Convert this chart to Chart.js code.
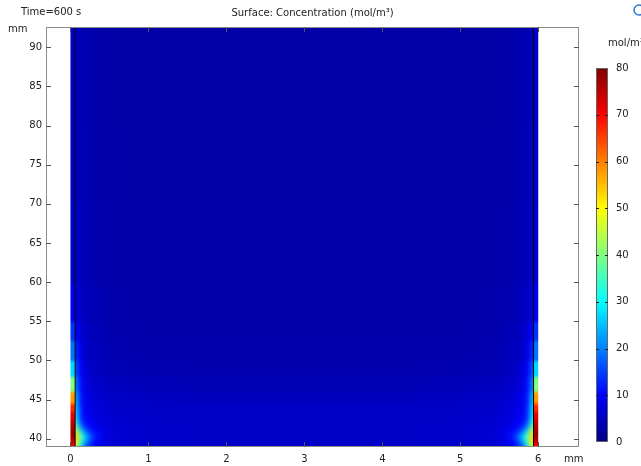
<!DOCTYPE html>
<html>
<head>
<meta charset="utf-8">
<title>Surface: Concentration</title>
<script src="https://cdn.jsdelivr.net/npm/chart.js@4/dist/chart.umd.min.js"></script>
<style>
  html, body { margin: 0; padding: 0; background: #fff; }
  canvas { display: block; }
</style>
</head>
<body>
<canvas id="c" width="641" height="466"></canvas>
<script>
// Cell boundaries of the concentration field (mm)
const xEdges = [0, 0.06, 0.1, 0.15, 0.2, 0.28, 0.38, 0.5, 0.7, 1.0, 1.5, 2.2, 3.8, 4.5, 5.0, 5.3, 5.5, 5.62, 5.72, 5.8, 5.85, 5.9, 5.94, 6.0];
const yEdges = [38.94, 39.4, 39.9, 40.4, 41.0, 41.7, 42.5, 43.5, 44.5, 46, 48, 50, 52.5, 55, 60, 70, 80, 92.6];

// Concentration (mol/m^3) per cell, bottom row first, left to right
const concentration = [
  [70, 47, 32, 21, 13, 8.8, 7, 6.3, 6, 5.9, 5.8, 5.8, 5.8, 5.9, 6, 6.3, 7, 8.8, 13, 21, 32, 47, 70],
  [74, 52, 38, 26, 16, 10, 7.6, 6.5, 6.1, 5.9, 5.8, 5.8, 5.8, 5.9, 6.1, 6.5, 7.6, 10, 16, 26, 38, 52, 74],
  [77, 54, 41, 30, 20, 12, 8.3, 6.8, 6.2, 5.9, 5.8, 5.8, 5.8, 5.9, 6.2, 6.8, 8.3, 12, 20, 30, 41, 54, 77],
  [78, 52, 36, 26, 17, 11, 8, 6.7, 6.2, 5.9, 5.8, 5.8, 5.8, 5.9, 6.2, 6.7, 8, 11, 17, 26, 36, 52, 78],
  [77, 43, 25, 17, 12, 9, 7.3, 6.5, 6.1, 5.9, 5.8, 5.8, 5.8, 5.9, 6.1, 6.5, 7.3, 9, 12, 17, 25, 43, 77],
  [75, 34, 18, 12.5, 9.8, 8.1, 7, 6.4, 6, 5.8, 5.8, 5.8, 5.8, 5.8, 6, 6.4, 7, 8.1, 9.8, 12.5, 18, 34, 75],
  [72, 29, 14.5, 10.5, 8.8, 7.6, 6.7, 6.2, 5.9, 5.8, 5.8, 5.8, 5.8, 5.8, 5.9, 6.2, 6.7, 7.6, 8.8, 10.5, 14.5, 29, 72],
  [67, 27, 13.5, 10, 8.4, 7.3, 6.5, 6, 5.7, 5.6, 5.5, 5.5, 5.5, 5.6, 5.7, 6, 6.5, 7.3, 8.4, 10, 13.5, 27, 67],
  [58, 25, 12.5, 9.5, 7.8, 6.8, 6, 5.6, 5.3, 5.1, 5.0, 5.0, 5.0, 5.1, 5.3, 5.6, 6, 6.8, 7.8, 9.5, 12.5, 25, 58],
  [40, 21, 11, 8.5, 7, 6, 5.3, 4.9, 4.6, 4.4, 4.2, 4.2, 4.2, 4.4, 4.6, 4.9, 5.3, 6, 7, 8.5, 11, 21, 40],
  [27, 17, 10, 7.5, 6.2, 5.3, 4.7, 4.3, 4, 3.8, 3.7, 3.7, 3.7, 3.8, 4, 4.3, 4.7, 5.3, 6.2, 7.5, 10, 17, 27],
  [19, 13, 8.5, 6.5, 5.5, 4.8, 4.3, 3.9, 3.7, 3.5, 3.5, 3.5, 3.5, 3.5, 3.7, 3.9, 4.3, 4.8, 5.5, 6.5, 8.5, 13, 19],
  [14, 10, 7, 5.8, 5, 4.4, 4, 3.7, 3.5, 3.4, 3.4, 3.4, 3.4, 3.4, 3.5, 3.7, 4, 4.4, 5, 5.8, 7, 10, 14],
  [9, 7, 5.6, 4.9, 4.4, 4.0, 3.7, 3.5, 3.4, 3.3, 3.3, 3.3, 3.3, 3.3, 3.4, 3.5, 3.7, 4.0, 4.4, 4.9, 5.6, 7, 9],
  [6.5, 5.5, 4.8, 4.4, 4.0, 3.7, 3.5, 3.3, 3.25, 3.2, 3.2, 3.2, 3.2, 3.2, 3.25, 3.3, 3.5, 3.7, 4.0, 4.4, 4.8, 5.5, 6.5],
  [5.8, 5.0, 4.5, 4.1, 3.8, 3.5, 3.3, 3.2, 3.1, 3.1, 3.1, 3.1, 3.1, 3.1, 3.1, 3.2, 3.3, 3.5, 3.8, 4.1, 4.5, 5.0, 5.8],
  [5.5, 4.8, 4.3, 4.0, 3.7, 3.4, 3.2, 3.1, 3.05, 3.0, 3.0, 3.0, 3.0, 3.0, 3.05, 3.1, 3.2, 3.4, 3.7, 4.0, 4.3, 4.8, 5.5]
];

// Inner boundaries of the thin wall layers (mm)
const wallLines = [0.06, 5.94];

// Axis ticks
const xTicks = [0, 1, 2, 3, 4, 5, 6];
const yTicks = [40, 45, 50, 55, 60, 65, 70, 75, 80, 85, 90];
const colorTicks = [0, 10, 20, 30, 40, 50, 60, 70, 80];

const X_MIN = -0.314, X_MAX = 6.523, Y_MIN = 38.94, Y_MAX = 92.6;
const C_MIN = 0, C_MAX = 80;
const FONT = '"DejaVu Sans", sans-serif';
const TEXT = '#222';

function clamp01(v) { return Math.max(0, Math.min(1, v)); }
function jet(v) {
  const t = clamp01((v - C_MIN) / (C_MAX - C_MIN));
  const r = clamp01(Math.min(4 * t - 1.5, -4 * t + 4.5));
  const g = clamp01(Math.min(4 * t - 0.5, -4 * t + 3.5));
  const b = clamp01(Math.min(4 * t + 0.5, -4 * t + 2.5));
  return `rgb(${Math.round(r * 255)},${Math.round(g * 255)},${Math.round(b * 255)})`;
}

// Paint the cells of columns c0..c1; the outer cells are stretched by `pad`
// pixels so that the smoothing below keeps full colour at the region borders.
function paintCells(g, x, y, c0, c1, pad) {
  const last = concentration.length - 1;
  for (let r = 0; r <= last; r++) {
    let yb = y.getPixelForValue(yEdges[r]);
    let yt = y.getPixelForValue(yEdges[r + 1]);
    if (r === 0) yb += pad;
    if (r === last) yt -= pad;
    for (let c = c0; c <= c1; c++) {
      let xl = x.getPixelForValue(xEdges[c]);
      let xr = x.getPixelForValue(xEdges[c + 1]);
      if (c === c0) xl -= pad;
      if (c === c1) xr += pad;
      g.fillStyle = jet(concentration[r][c]);
      g.fillRect(Math.floor(xl), Math.floor(yt), Math.ceil(xr) - Math.floor(xl), Math.ceil(yb) - Math.floor(yt));
    }
  }
}

const fieldPlugin = {
  id: 'surfaceField',
  beforeDatasetsDraw(chart) {
    const { ctx, scales: { x, y }, chartArea: a } = chart;
    const off = document.createElement('canvas');
    off.width = chart.width; off.height = chart.height;
    const g = off.getContext('2d');
    const nCols = xEdges.length - 1;
    // wall layers and the channel between them are shaded separately
    const regions = [
      { c0: 0, c1: 0, blur: 1.5 },
      { c0: 1, c1: nCols - 2, blur: 2.5 },
      { c0: nCols - 1, c1: nCols - 1, blur: 1.5 }
    ];
    regions.forEach(reg => {
      g.clearRect(0, 0, off.width, off.height);
      paintCells(g, x, y, reg.c0, reg.c1, 12);
      const xl = x.getPixelForValue(xEdges[reg.c0]);
      const xr = x.getPixelForValue(xEdges[reg.c1 + 1]);
      ctx.save();
      ctx.beginPath();
      ctx.rect(xl, a.top, xr - xl, a.bottom - a.top);
      ctx.clip();
      ctx.filter = `blur(${reg.blur}px)`;
      ctx.drawImage(off, 0, 0);
      ctx.restore();
    });
  },
  afterDraw(chart) {
    const { ctx, scales: { x, y }, chartArea: a } = chart;
    ctx.save();
    // frame
    ctx.strokeStyle = '#8c8c8c';
    ctx.lineWidth = 1;
    ctx.strokeRect(Math.round(a.left) + 0.5, Math.round(a.top) + 0.5,
      Math.round(a.right - a.left) - 1, Math.round(a.bottom - a.top) - 1);
    // inward tick marks on all four sides
    ctx.strokeStyle = '#555';
    ctx.beginPath();
    xTicks.forEach(v => {
      const px = Math.round(x.getPixelForValue(v)) + 0.5;
      ctx.moveTo(px, a.bottom); ctx.lineTo(px, a.bottom - 5);
      ctx.moveTo(px, a.top); ctx.lineTo(px, a.top + 5);
    });
    yTicks.forEach(v => {
      const py = Math.round(y.getPixelForValue(v)) + 0.5;
      ctx.moveTo(a.left, py); ctx.lineTo(a.left + 5, py);
      ctx.moveTo(a.right, py); ctx.lineTo(a.right - 5, py);
    });
    ctx.stroke();

    // texts
    ctx.fillStyle = TEXT;
    ctx.font = `10px ${FONT}`;
    ctx.textBaseline = 'middle';
    ctx.textAlign = 'left';
    ctx.fillText('Time=600 s', 21, 12);
    ctx.fillText('mm', 8, 29);
    ctx.fillText('mm', 564, 459);
    ctx.textAlign = 'center';
    ctx.fillText('Surface: Concentration (mol/m³)', (a.left + a.right) / 2, 13);

    // colour legend
    const cbL = 596, cbR = 608, cbTop = 68, cbBot = 442;
    const cy = v => cbBot - (v - C_MIN) / (C_MAX - C_MIN) * (cbBot - cbTop);
    const steps = 187;
    for (let i = 0; i < steps; i++) {
      const v0 = C_MIN + (C_MAX - C_MIN) * i / steps;
      const v1 = C_MIN + (C_MAX - C_MIN) * (i + 1) / steps;
      ctx.fillStyle = jet((v0 + v1) / 2);
      const y0 = cy(v1), y1 = cy(v0);
      ctx.fillRect(cbL, Math.floor(y0), cbR - cbL, Math.ceil(y1) - Math.floor(y0));
    }
    ctx.strokeStyle = '#666';
    ctx.strokeRect(cbL + 0.5, cbTop + 0.5, cbR - cbL - 1, cbBot - cbTop - 1);
    ctx.strokeStyle = '#222';
    ctx.beginPath();
    colorTicks.forEach(v => {
      const py = Math.round(cy(v)) + 0.5;
      if (v > C_MIN && v < C_MAX) {
        ctx.moveTo(cbL, py); ctx.lineTo(cbL + 3, py);
        ctx.moveTo(cbR, py); ctx.lineTo(cbR - 3, py);
      }
    });
    ctx.stroke();
    ctx.fillStyle = TEXT;
    ctx.textAlign = 'left';
    colorTicks.forEach(v => ctx.fillText(String(v), 616, cy(v)));
    ctx.fillText('mol/m³', 608, 43);

    // help badge in the corner
    ctx.strokeStyle = '#2f7bd0';
    ctx.lineWidth = 1.5;
    ctx.beginPath();
    ctx.arc(639, 10, 5, 0, Math.PI * 2);
    ctx.stroke();
    ctx.restore();
  }
};

const axisFont = { family: FONT, size: 10 };

new Chart(document.getElementById('c'), {
  type: 'scatter',
  data: {
    datasets: wallLines.map(xv => ({
      data: [{ x: xv, y: Y_MIN }, { x: xv, y: Y_MAX }],
      showLine: true,
      borderColor: '#000',
      borderWidth: 1,
      pointRadius: 0,
      fill: false
    }))
  },
  options: {
    responsive: false,
    animation: false,
    devicePixelRatio: 1,
    layout: { padding: { left: 0, right: 62, top: 27, bottom: 0 } },
    plugins: { legend: { display: false }, tooltip: { enabled: false } },
    scales: {
      x: {
        type: 'linear', min: X_MIN, max: X_MAX,
        afterBuildTicks: s => { s.ticks = xTicks.map(v => ({ value: v })); },
        afterFit: s => { s.height = 19; },
        grid: { display: false, drawTicks: false },
        border: { display: false },
        ticks: { padding: 6, color: TEXT, font: axisFont, maxRotation: 0, autoSkip: false }
      },
      y: {
        type: 'linear', min: Y_MIN, max: Y_MAX,
        afterBuildTicks: s => { s.ticks = yTicks.map(v => ({ value: v })); },
        afterFit: s => { s.width = 46; },
        grid: { display: false, drawTicks: false },
        border: { display: false },
        ticks: { padding: 4, color: TEXT, font: axisFont, autoSkip: false }
      }
    }
  },
  plugins: [fieldPlugin]
});
</script>
</body>
</html>
